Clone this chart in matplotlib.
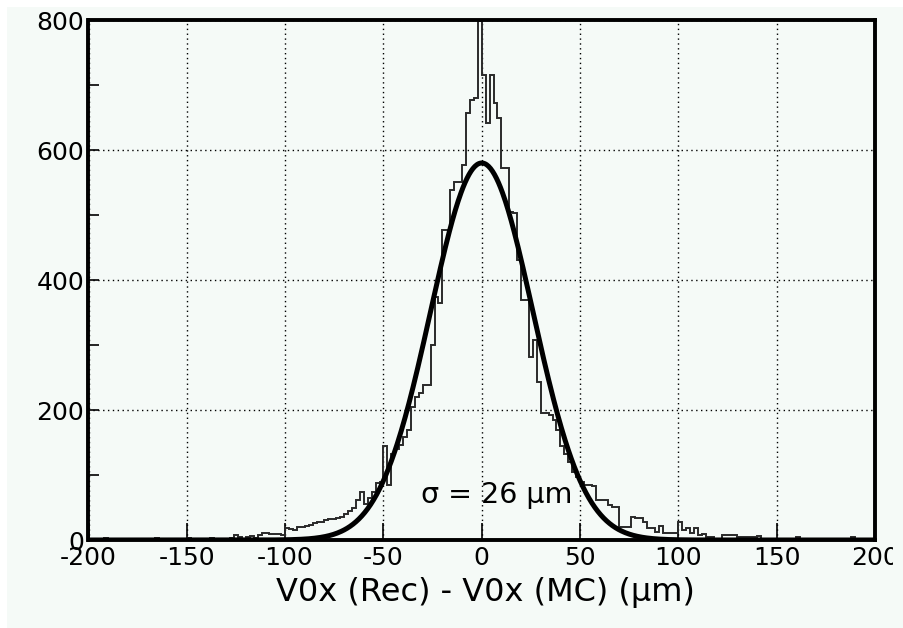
import numpy as np
import matplotlib
matplotlib.use("Agg")
from matplotlib import pyplot as plt
from matplotlib.patches import Rectangle
from matplotlib.transforms import Bbox, TransformedBbox

plt.rcParams["axes.unicode_minus"] = False

# histogram: 2 um bins from -200 to 200 (counts)
bin_edges = np.arange(-200, 201, 2)
counts = [
    # -200 .. -180
    0, 0, 0, 0, 3, 0, 0, 0, 0, 0,
    # -180 .. -160
    0, 0, 0, 0, 0, 0, 2, 3, 0, 0,
    # -160 .. -140
    0, 0, 0, 0, 0, 3, 2, 0, 0, 0,
    # -140 .. -120
    2, 3, 0, 0, 1, 2, 3, 8, 5, 2,
    # -120 .. -100
    5, 6, 3, 8, 11, 11, 10, 10, 9, 8,
    # -100 .. -80
    18, 17, 15, 20, 20, 22, 23, 26, 27, 28,
    # -80 .. -60
    31, 32, 32, 34, 36, 40, 44, 49, 62, 74,
    # -60 .. -40
    56, 64, 74, 87, 90, 144, 85, 132, 140, 146,
    # -40 .. -20
    159, 169, 205, 220, 226, 238, 238, 300, 374, 364,
    # -20 .. 0
    477, 477, 538, 551, 551, 577, 657, 677, 680, 798,
    # 0 .. 20
    715, 642, 715, 673, 650, 572, 572, 505, 503, 431,
    # 20 .. 40
    369, 369, 282, 308, 243, 195, 195, 193, 185, 169,
    # 40 .. 60
    145, 133, 120, 105, 97, 90, 85, 85, 83, 62,
    # 60 .. 80
    62, 62, 54, 51, 51, 20, 20, 20, 36, 34,
    # 80 .. 100
    34, 28, 18, 18, 13, 21, 11, 11, 11, 11,
    # 100 .. 120
    28, 15, 18, 11, 18, 8, 10, 5, 5, 0,
    # 120 .. 140
    0, 8, 8, 8, 8, 4, 4, 4, 4, 4,
    # 140 .. 160
    6, 0, 0, 0, 0, 0, 0, 0, 0, 0,
    # 160 .. 180
    5, 0, 0, 0, 0, 0, 0, 0, 0, 0,
    # 180 .. 200
    0, 0, 0, 0, 5, 0, 0, 0, 0, 0,
]

# gaussian fit parameters
fit_amp = 580.0
fit_mean = 0.0
fit_sigma = 26.0

x_ticks = [-200, -150, -100, -50, 0, 50, 100, 150, 200]
y_ticks = [0, 200, 400, 600, 800]
y_minor = [100, 300, 500, 700]
x_label = "V0x (Rec) - V0x (MC) (\u00b5m)"
fit_text = "\u03c3 = 26 \u00b5m"

bg = "#f5faf7"

fig = plt.figure(figsize=(9.04, 6.28), dpi=100)
fig.patch.set_facecolor("white")
fig.patches.append(Rectangle((7 / 904, 0), 1, 1 - 7 / 628, transform=fig.transFigure,
                             facecolor=bg, edgecolor="none", zorder=-10))

ax = fig.add_axes([88.5 / 904, 88 / 628, (875 - 88.5) / 904, (540 - 20) / 628])
ax.set_facecolor(bg)

ax.stairs(counts, bin_edges, color="#2a2a2a", linewidth=1.4, zorder=3)

xf = np.linspace(-200, 200, 801)
yf = fit_amp * np.exp(-0.5 * ((xf - fit_mean) / fit_sigma) ** 2)
ax.plot(xf, yf, color="black", linewidth=3.6, zorder=4)

ax.set_xlim(-200, 200)
ax.set_ylim(0, 800)
ax.set_xticks(x_ticks)
ax.set_yticks(y_ticks)
ax.set_yticks(y_minor, minor=True)

ax.grid(True, which="major", color="black", linestyle=(0, (1, 2.5)), linewidth=1.0)
for s in ax.spines.values():
    s.set_linewidth(2.8)
    s.set_zorder(5)

ax.tick_params(axis="x", which="major", direction="in", length=12, width=1.2,
               labelsize=18, pad=4, top=False)
ax.tick_params(axis="y", which="both", direction="in", length=8, width=1.2,
               labelsize=18, pad=3, right=False)

for lbl in ax.get_xticklabels() + ax.get_yticklabels():
    lbl.set_family("DejaVu Sans")

# right-most label is cut by the image border in the original
clip = TransformedBbox(Bbox([[0, 0], [893 / 904, 1]]), fig.transFigure)
last = ax.get_xticklabels()[-1]
last.set_clip_box(clip)
last.set_clip_on(True)

ax.text(-31, 57, fit_text, fontsize=20.5, family="DejaVu Sans", ha="left",
        va="baseline", zorder=6)

fig.text(485 / 904, 1 - 592 / 628, x_label, fontsize=23, family="DejaVu Sans",
         ha="center", va="center")

fig.savefig("out.png", dpi=100, facecolor=fig.get_facecolor())
